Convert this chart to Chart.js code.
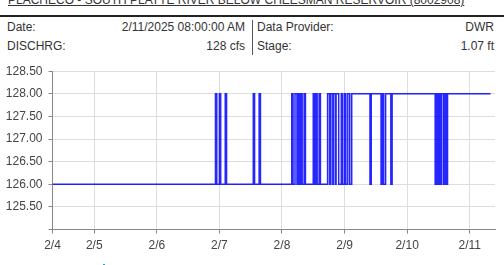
<!DOCTYPE html>
<html>
<head>
<meta charset="utf-8">
<script src="https://cdn.jsdelivr.net/npm/chart.js@4/dist/chart.umd.min.js"></script>
<style>
  html, body { margin: 0; padding: 0; background: #fff; }
  body { width: 504px; height: 265px; position: relative; overflow: hidden;
         font-family: Arial, "Liberation Sans", sans-serif; font-size: 12px; color: #333; }
  .title { position: absolute; left: 8px; top: -7px; line-height: 14px; text-decoration: underline; white-space: nowrap; }
  .rule { position: absolute; left: 0; top: 15px; width: 504px; height: 2px; background: #222; }
  .cell { position: absolute; line-height: 14px; white-space: nowrap; }
  .sep { position: absolute; left: 252px; top: 20px; width: 1px; height: 35px; background: #555; }
  .dot { position: absolute; left: 103px; top: 264px; width: 2px; height: 1px; background: #2a9fd8; }
  #wrap { position: absolute; left: 0; top: 58px; width: 504px; height: 207px; }
</style>
</head>
<body>
<div class="title">PLACHECO - SOUTH PLATTE RIVER BELOW CHEESMAN RESERVOIR (8002908)</div>
<div class="rule"></div>
<div class="cell" style="left:7px;top:20px">Date:</div>
<div class="cell" style="right:259px;top:20px">2/11/2025 08:00:00 AM</div>
<div class="sep"></div>
<div class="cell" style="left:257px;top:20px">Data Provider:</div>
<div class="cell" style="right:10px;top:20px">DWR</div>
<div class="cell" style="left:7px;top:39px">DISCHRG:</div>
<div class="cell" style="right:259px;top:39px">128 cfs</div>
<div class="cell" style="left:257px;top:39px">Stage:</div>
<div class="cell" style="right:10px;top:39px">1.07 ft</div>
<div class="dot"></div>
<div id="wrap"><canvas id="flowChart"></canvas></div>
<script>
// heures depuis le 2/4 00:00 ; chaque point garde sa valeur jusqu'au suivant
const times = [
  8,
  70.5, 71, 72, 72.5, 74.25, 74.75, 85, 85.5, 87.25, 87.75,
  99.75, 100.25, 101, 101.75, 102.25, 102.75, 103.25, 103.75, 104.5, 105,
  108, 108.5, 109, 109.5, 110.25, 110.75,
  113.5, 114.25, 114.75, 115.5, 115.75, 116.5, 116.75, 117.75, 118.75, 119.25,
  120, 120.5, 121.25, 122, 122.75,
  129.75, 130.25, 134, 134.5, 135, 135.75, 137.75, 138.25,
  154.75, 155.25, 155.75, 156.25, 156.75, 157.25, 158, 158.5, 159, 159.5,
  176
];
const flow = [
  126,
  128, 126, 128, 126, 128, 126, 128, 126, 128, 126,
  128, 126, 128, 126, 128, 126, 128, 126, 128, 126,
  128, 126, 128, 126, 128, 126,
  128, 126, 128, 126, 128, 126, 128, 126, 128, 126,
  128, 126, 128, 126, 128,
  126, 128, 126, 128, 126, 128, 126, 128,
  126, 128, 126, 128, 126, 128, 126, 128, 126, 128,
  128
];
const dayTicks = [8, 24, 48, 72, 96, 120, 144, 168];
const dayLabels = ['2/4', '2/5', '2/6', '2/7', '2/8', '2/9', '2/10', '2/11'];

const points = times.map((t, i) => ({ x: t, y: flow[i] }));

const ctx = document.getElementById('flowChart').getContext('2d');
new Chart(ctx, {
  type: 'line',
  data: {
    datasets: [{
      label: 'DISCHRG',
      data: points,
      stepped: true,
      borderColor: 'rgba(0, 0, 255, 0.85)',
      borderWidth: 1.5,
      pointRadius: 0,
      fill: false
    }]
  },
  options: {
    responsive: true,
    maintainAspectRatio: false,
    animation: false,
    layout: { padding: { top: 11, right: 9, bottom: 7, left: 0 } },
    plugins: { legend: { display: false }, tooltip: { enabled: false } },
    scales: {
      x: {
        type: 'linear',
        min: 8,
        max: 177.7,
        afterBuildTicks: scale => { scale.ticks = dayTicks.map(v => ({ value: v })); },
        ticks: {
          autoSkip: false,
          maxRotation: 0,
          padding: 5,
          color: '#444',
          font: { family: 'Arial, "Liberation Sans"', size: 12 },
          callback: (v) => dayLabels[dayTicks.indexOf(v)] || ''
        },
        grid: { color: '#ddd', tickColor: '#888', tickLength: 4 },
        border: { color: '#888' }
      },
      y: {
        min: 125,
        max: 128.5,
        afterFit: scale => { scale.width = 52.5; },
        ticks: {
          stepSize: 0.5,
          padding: 6,
          color: '#444',
          font: { family: 'Arial, "Liberation Sans"', size: 12 },
          callback: v => v === 125 ? '' : v.toFixed(2)
        },
        grid: { color: '#ddd', tickColor: '#888', tickLength: 4 },
        border: { color: '#888' }
      }
    }
  }
});
</script>
</body>
</html>
